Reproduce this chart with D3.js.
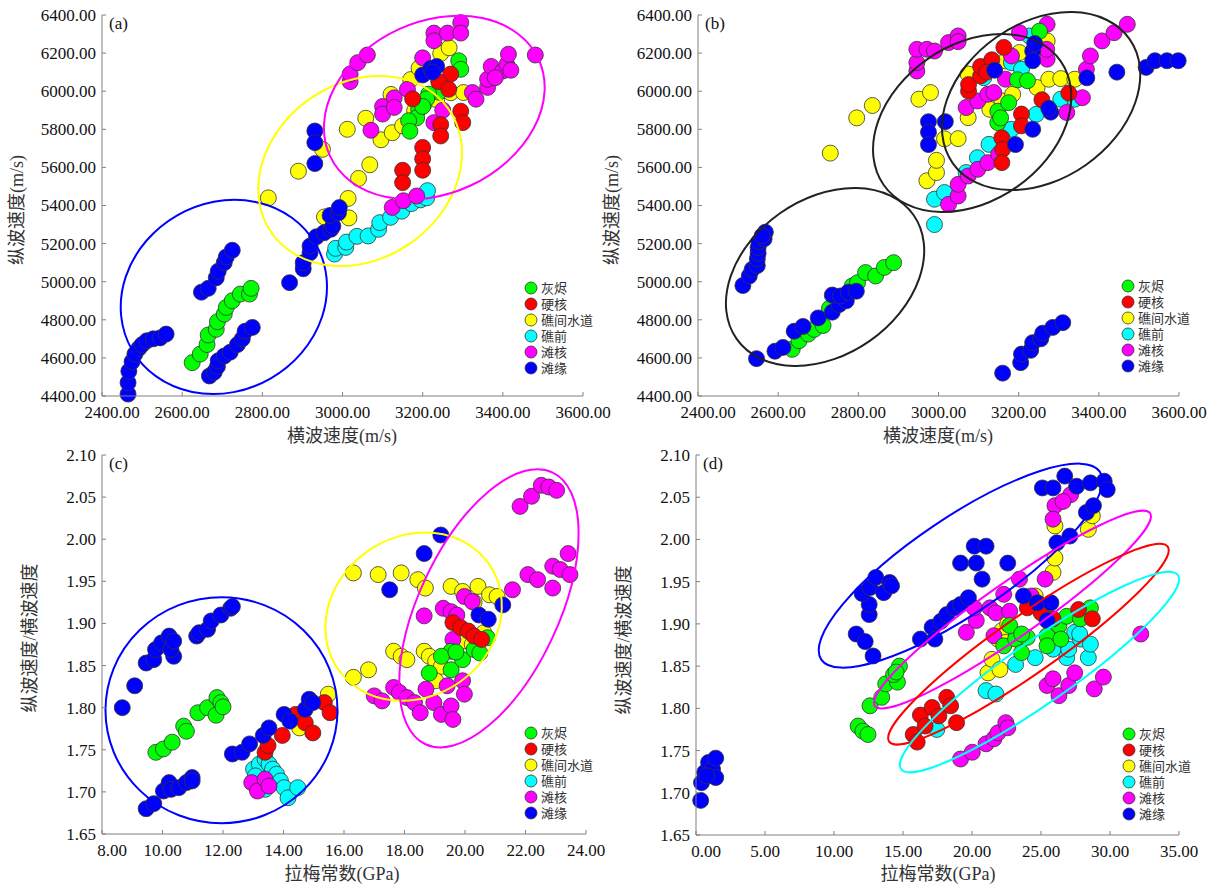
<!DOCTYPE html>
<html><head><meta charset="utf-8">
<script src="https://cdn.jsdelivr.net/npm/d3@7"></script>
<style>body{margin:0;background:#fff}svg{display:block}</style>
</head><body>
<svg id="chart" width="1216" height="887"></svg>
<script>
// ---------- categories & tick labels ----------
const categories = ["灰烬","硬核","礁间水道","礁前","滩核","滩缘"];
const vsTicks = [2400,2600,2800,3000,3200,3400,3600];
const vpTicks = [4400,4600,4800,5000,5200,5400,5600,5800,6000,6200,6400];
const ratioTicks = [1.65,1.70,1.75,1.80,1.85,1.90,1.95,2.00,2.05,2.10];
const lameTicksC = [8,10,12,14,16,18,20,22,24];
const lameTicksD = [0,5,10,15,20,25,30,35];

// ---------- panel (a): Vs vs Vp ----------
const aAsh = [[2625,4575],[2645,4620],[2662,4670],[2665,4720],[2685,4750],[2688,4790],[2705,4830],[2710,4865],[2725,4900],[2745,4935],[2768,4935],[2772,4965],[3290,6160],[3295,6115],[3240,5995],[3215,5985],[3210,5960],[3190,5905],[3185,5860],[3165,5845],[3168,5790],[3200,5920]];
const aHard = [[3270,6090],[3240,6050],[3295,5895],[3300,5835],[3245,5825],[3245,5765],[3200,5705],[3200,5645],[3200,5585],[3150,5585],[3150,5520],[3175,5960],[3265,6010]];
const aChannel = [[2815,5440],[2890,5580],[2950,5695],[3012,5800],[3058,5858],[3068,5614],[3040,5542],[3014,5437],[3016,5335],[3096,5745],[3124,5782],[3150,5818],[3180,5898],[3206,5940],[3121,5983],[3170,6061],[3191,6121],[3245,6198],[3266,6228],[3270,5992],[3302,5993],[3235,5956],[2955,5340]];
const aFore = [[2980,5145],[2983,5175],[3008,5180],[3010,5208],[3036,5238],[3064,5240],[3090,5275],[3093,5310],[3120,5338],[3148,5370],[3172,5410],[3195,5430],[3210,5440],[3212,5478]];
const aShoalCore = [[3019,6050],[3019,6090],[3038,6150],[3062,6190],[3124,5390],[3152,5425],[3185,5450],[3228,6305],[3228,6265],[3262,6305],[3295,6360],[3295,6305],[3200,6175],[3100,5920],[3100,5880],[3129,5965],[3162,6010],[3071,5795],[3129,5915],[3228,5835],[3324,5993],[3362,6020],[3362,6063],[3371,6130],[3400,6106],[3410,6140],[3414,6194],[3381,6071],[3481,6190],[3333,5958],[3250,5900],[3420,6110]];
const aShoalEdge = [[2465,4410],[2465,4470],[2467,4530],[2475,4580],[2482,4620],[2492,4650],[2500,4670],[2512,4690],[2528,4700],[2545,4705],[2560,4725],
 [2648,4945],[2665,4965],[2685,5020],[2690,5055],[2705,5100],[2710,5130],[2725,5165],
 [2668,4505],[2680,4525],[2688,4555],[2690,4585],[2705,4610],[2720,4630],[2738,4670],[2750,4700],[2757,4740],[2775,4760],
 [2868,4995],[2902,5068],[2902,5100],[2919,5152],[2919,5187],[2935,5236],[2954,5257],[2971,5275],[2976,5292],[2969,5348],[2990,5362],[2992,5389],
 [2931,5791],[2931,5730],[2931,5620],
 [3200,6085],[3220,6120],[3235,6130],[3225,6100]];

// ---------- panel (b): Vs vs Vp ----------
const bAsh = [[2635,4645],[2652,4690],[2675,4725],[2690,4750],[2712,4770],[2728,4860],[2750,4900],[2785,4978],[2798,4995],[2818,5048],[2843,5030],[2865,5075],[2888,5100],[3148,5895],[3148,5835],[3155,5860],[3197,6060],[3222,6055],[3252,6315],[3175,5940]];
const bHard = [[3075,6000],[3075,6035],[3105,6080],[3105,6130],[3133,6165],[3163,6230],[3158,5755],[3160,5695],[3158,5625],[3207,5880],[3207,5818],[3258,5955],[3325,5990],[3120,6100]];
const bChannel = [[2730,5675],[2796,5860],[2835,5925],[2951,5958],[2980,5993],[2971,5530],[2995,5573],[2995,5637],[3015,5750],[3049,5751],[3074,5861],[3074,6090],[3128,5905],[3158,5949],[3167,6159],[3202,6203],[3185,5984],[3246,6019],[3275,6063],[3305,6066],[3340,6063],[3271,6264]];
const bFore = [[2990,5300],[2990,5433],[3015,5468],[3069,5573],[3097,5651],[3126,5721],[3182,5800],[3244,5879],[3305,5958],[3340,5958],[3113,6071],[3227,6290],[3182,6150],[3207,6115]];
const bShoalCore = [[2946,6106],[2946,6150],[2946,6220],[2971,6220],[2990,6211],[3025,6255],[3049,6290],[3049,6260],[3025,5406],[3049,5450],[3049,5511],[3074,5555],[3098,5590],[3123,5625],[3150,5669],[3069,5914],[3098,5949],[3123,5984],[3167,6063],[3202,6307],[3271,6351],[3271,6168],[3320,5888],[3359,5966],[3369,6115],[3379,6185],[3408,6264],[3438,6307],[3471,6351],[3182,6185],[3138,5993],[3270,6220]];
const bShoalEdge = [[2512,4980],[2528,5030],[2535,5065],[2548,5085],[2548,5120],[2550,5150],[2550,5180],[2552,5210],[2565,5225],[2568,5260],[2560,5240],
 [2546,4596],
 [2592,4635],[2612,4655],[2640,4740],[2662,4765],[2700,4810],[2735,4840],[2752,4880],[2770,4900],[2735,4930],[2755,4925],[2775,4945],[2795,4950],
 [3160,4520],[3205,4575],[3207,4620],[3230,4640],[3235,4680],[3255,4700],[3260,4730],[3285,4760],[3310,4785],
 [2975,5840],[2975,5785],[2975,5720],[3017,5840],[3192,5720],[3235,5800],[3280,5890],[3275,5910],[3370,6070],[3445,6100],[3518,6125],[3540,6160],[3570,6160],[3598,6160],[3140,6110],[3235,6210],[3235,6160],[3240,6250]];

// ---------- panel (c): Lame constant vs Vp/Vs ----------
const cAsh = [[9.78,1.747],[10.03,1.751],[10.32,1.759],[10.70,1.778],[10.79,1.772],[11.17,1.794],[11.49,1.800],[11.77,1.791],[11.80,1.812],[11.93,1.806],[12.0,1.801],[18.82,1.841],[19.54,1.845],[19.54,1.867],[19.92,1.857],[20.30,1.869],[20.49,1.865],[20.74,1.883],[19.22,1.861],[19.7,1.866]];
const cHard = [[13.39,1.747],[13.49,1.755],[13.96,1.767],[14.40,1.792],[14.72,1.782],[14.97,1.770],[15.35,1.806],[15.54,1.794],[19.60,1.901],[19.86,1.895],[20.11,1.891],[20.30,1.885],[20.55,1.881]];
const cChannel = [[14.53,1.776],[15.48,1.816],[16.31,1.960],[17.13,1.958],[17.89,1.960],[18.44,1.952],[18.69,1.942],[19.54,1.944],[19.92,1.938],[20.43,1.944],[20.81,1.934],[21.06,1.932],[16.31,1.836],[16.81,1.845],[17.64,1.867],[17.89,1.861],[18.08,1.857],[18.65,1.867],[18.82,1.861],[19.03,1.855],[19.22,1.849],[19.03,1.832],[19.92,1.879],[20.24,1.875],[20.62,1.889],[20.3,1.925]];
const cFore = [[13.01,1.727],[13.20,1.733],[13.39,1.739],[13.52,1.733],[13.64,1.727],[13.77,1.721],[13.90,1.713],[14.02,1.705],[14.15,1.693],[14.47,1.705],[13.39,1.703],[13.07,1.719]];
const cShoalCore = [[12.95,1.711],[13.14,1.701],[13.39,1.715],[13.52,1.707],[17.0,1.814],[17.26,1.808],[17.64,1.824],[17.83,1.818],[18.08,1.812],[18.33,1.806],[18.52,1.794],[18.71,1.822],[18.97,1.806],[19.22,1.792],[19.54,1.802],[19.60,1.786],[19.41,1.826],[19.92,1.832],[19.98,1.816],[19.60,1.881],[18.65,1.909],[19.28,1.918],[19.54,1.914],[19.73,1.910],[19.98,1.932],[20.24,1.926],[21.57,1.940],[22.08,1.958],[22.40,1.952],[22.90,1.942],[22.90,1.968],[23.15,1.964],[23.47,1.958],[23.41,1.983],[21.82,2.039],[22.20,2.051],[22.52,2.064],[22.77,2.062],[23.03,2.058]];
const cShoalEdge = [[8.67,1.800],[9.08,1.826],[9.46,1.853],[9.71,1.857],[9.77,1.869],[9.97,1.877],[10.22,1.885],[10.37,1.861],[10.28,1.869],[10.37,1.879],[11.13,1.885],[11.21,1.889],[11.49,1.893],[11.61,1.903],[11.93,1.910],[12.25,1.918],[12.31,1.920],[9.46,1.680],[9.71,1.686],[10.03,1.701],[10.22,1.711],[10.28,1.703],[10.54,1.705],[10.79,1.711],[10.98,1.717],[10.98,1.713],[12.31,1.745],[12.63,1.747],[12.88,1.757],[13.33,1.767],[13.52,1.776],[14.02,1.792],[14.21,1.784],[14.72,1.798],[14.85,1.810],[14.97,1.806],[17.51,1.940],[18.65,1.983],[19.20,2.005],[20.46,1.910],[20.77,1.905],[21.25,1.922]];

// ---------- panel (d): Lame constant vs Vp/Vs ----------
const dAsh = [[11.75,1.779],[12.09,1.773],[12.46,1.769],[12.61,1.803],[13.46,1.813],[13.75,1.829],[14.60,1.831],[14.32,1.840],[14.74,1.850],[14.5,1.843],[22.30,1.874],[23.16,1.882],[24.01,1.884],[23.59,1.866],[25.44,1.886],[25.44,1.874],[26.30,1.898],[26.44,1.882],[26.86,1.909],[27.86,1.906],[28.58,1.919],[22.73,1.898],[23.6,1.888]];
const dHard = [[15.74,1.769],[16.03,1.760],[16.26,1.792],[16.60,1.779],[17.11,1.801],[17.60,1.791],[18.17,1.813],[18.45,1.803],[18.88,1.783],[25.01,1.913],[25.87,1.906],[27.72,1.917],[28.72,1.906],[24.01,1.919]];
const dChannel = [[21.16,1.842],[21.45,1.858],[22.02,1.846],[21.88,1.882],[22.16,1.892],[22.59,1.900],[24.16,1.923],[24.58,1.933],[25.87,1.961],[26.01,1.978],[26.01,2.016],[28.43,2.012],[28.72,2.028],[22.4,1.878]];
const dFore = [[17.45,1.775],[21.02,1.821],[21.73,1.817],[23.16,1.852],[24.58,1.860],[25.87,1.870],[26.86,1.860],[27.01,1.870],[27.44,1.890],[27.86,1.882],[28.43,1.860],[28.58,1.876],[27.8,1.888]];
const dShoalCore = [[19.59,1.890],[20.31,1.904],[20.16,1.919],[21.30,1.919],[21.73,1.913],[22.30,1.935],[22.73,1.915],[23.44,1.953],[21.59,1.886],[24.30,1.933],[25.30,1.953],[26.01,2.040],[25.87,2.024],[27.15,2.053],[26.6,2.045],[19.17,1.740],[20.02,1.748],[21.02,1.758],[21.59,1.764],[21.88,1.771],[22.45,1.783],[22.59,1.777],[25.44,1.827],[25.87,1.835],[26.30,1.815],[27.01,1.827],[27.44,1.842],[28.86,1.823],[29.52,1.837],[32.23,1.888]];
const dShoalEdge = [[0.34,1.691],[0.40,1.712],[0.63,1.724],[0.91,1.736],[1.20,1.728],[1.43,1.741],[1.43,1.718],[0.77,1.720],[11.61,1.888],[12.26,1.879],[12.83,1.862],[12.55,1.911],[12.55,1.923],[12.04,1.936],[12.61,1.943],[13.03,1.955],[13.60,1.937],[14.03,1.949],[14.17,1.945],[16.26,1.882],[17.11,1.896],[17.31,1.882],[17.74,1.903],[18.17,1.911],[18.74,1.919],[19.17,1.923],[19.74,1.931],[19.17,1.972],[20.16,1.992],[21.02,1.992],[20.31,1.972],[20.73,1.953],[22.59,1.972],[23.73,1.933],[24.73,1.925],[25.44,1.904],[25.72,1.925],[26.15,1.996],[27.09,2.004],[28.29,2.032],[28.80,2.040],[25.10,2.061],[25.87,2.061],[26.72,2.075],[27.58,2.063],[28.58,2.067],[29.58,2.069],[29.80,2.059]];

// ---------- cluster ellipse centres (data units) ----------
const ellipseCentersA = [[2704,4920],[3044,5581],[3229,5914]];
const ellipseCentersB = [[2717,5025],[3084,5833],[3256,5948]];
const ellipseCentersC = [[11.95,1.797],[18.30,1.908],[20.79,1.918]];
const ellipseCentersD = [[19.17,1.969],[22.93,1.917],[24.09,1.876],[24.89,1.843]];

// ---------- styles ----------
const colors = ["#00ff00","#ff0000","#ffff00","#00ffff","#ff00ff","#0000ff"];
const drawOrder = [2,3,4,0,1,5];
const ellipseShapes = {
  a:[{rx:106,ry:94,rot:-30,c:"#0000ff"},{rx:108,ry:88,rot:-35,c:"#ffff00"},{rx:115,ry:86,rot:-25,c:"#ff00ff"}],
  b:[{rx:108,ry:78,rot:-35,c:"#222"},{rx:108,ry:78,rot:-35,c:"#222"},{rx:108,ry:78,rot:-35,c:"#222"}],
  c:[{rx:116,ry:113,rot:0,c:"#0000ff"},{rx:92,ry:80,rot:-35,c:"#ffff00"},{rx:150,ry:70,rot:-65,c:"#ff00ff"}],
  d:[{rx:168,ry:48,rot:-34,c:"#0000ff"},{rx:168,ry:27,rot:-35,c:"#ff00ff"},{rx:170,ry:29,rot:-35,c:"#ff0000"},{rx:169,ry:31,rot:-35,c:"#00ffff"}]
};

const panels = [
  {key:"a",label:"(a)",series:[aAsh,aHard,aChannel,aFore,aShoalCore,aShoalEdge],xd:[2400,3600],yd:[4400,6400],xt:vsTicks,yt:vpTicks,
   x0:102,x1:583,y0:396,y1:15,xTitle:"横波速度(m/s)",yTitle:"纵波速度(m/s)",xTitleX:342,xTitleY:442,yTitleX:17,yTitleY:210,ell:ellipseCentersA,legX:531,legY:288},
  {key:"b",label:"(b)",series:[bAsh,bHard,bChannel,bFore,bShoalCore,bShoalEdge],xd:[2400,3600],yd:[4400,6400],xt:vsTicks,yt:vpTicks,
   x0:698,x1:1179,y0:396,y1:15,xTitle:"横波速度(m/s)",yTitle:"纵波速度(m/s)",xTitleX:938,xTitleY:442,yTitleX:612,yTitleY:210,ell:ellipseCentersB,legX:1128,legY:286},
  {key:"c",label:"(c)",series:[cAsh,cHard,cChannel,cFore,cShoalCore,cShoalEdge],xd:[8,24],yd:[1.65,2.10],xt:lameTicksC,yt:ratioTicks,
   x0:102,x1:586,y0:834,y1:455,xTitle:"拉梅常数(GPa)",yTitle:"纵波速度/横波速度",xTitleX:342,xTitleY:880,yTitleX:30,yTitleY:638,ell:ellipseCentersC,legX:531,legY:733},
  {key:"d",label:"(d)",series:[dAsh,dHard,dChannel,dFore,dShoalCore,dShoalEdge],xd:[0,35],yd:[1.65,2.10],xt:lameTicksD,yt:ratioTicks,
   x0:696,x1:1179,y0:835,y1:455,xTitle:"拉梅常数(GPa)",yTitle:"纵波速度/横波速度",xTitleX:938,xTitleY:880,yTitleX:624,yTitleY:640,ell:ellipseCentersD,legX:1129,legY:734}
];

const svg = d3.select("#chart");
const fmt = d3.format(".2f");
const serif = "'Liberation Serif','Times New Roman','Noto Sans CJK SC',serif";
const cjk = "'Liberation Serif','Noto Sans CJK SC',serif";

panels.forEach(p => {
  const x = d3.scaleLinear().domain(p.xd).range([p.x0,p.x1]);
  const y = d3.scaleLinear().domain(p.yd).range([p.y0,p.y1]);
  const g = svg.append("g");

  // points
  const pts = g.append("g");
  drawOrder.forEach(si => {
    pts.selectAll(null).data(p.series[si]).enter().append("circle")
      .attr("cx", d => x(d[0])).attr("cy", d => y(d[1])).attr("r", 8)
      .attr("fill", colors[si]).attr("stroke", "#333").attr("stroke-width", 0.8);
  });

  // ellipses
  p.ell.forEach((c, i) => {
    const s = ellipseShapes[p.key][i];
    g.append("ellipse").attr("cx",0).attr("cy",0).attr("rx",s.rx).attr("ry",s.ry)
      .attr("transform",`translate(${x(c[0])},${y(c[1])}) rotate(${s.rot})`)
      .attr("fill","none").attr("stroke",s.c).attr("stroke-width",2);
  });

  // axes
  const ax = g.append("g").attr("stroke","#808080").attr("stroke-width",1);
  ax.append("line").attr("x1",p.x0).attr("x2",p.x1).attr("y1",p.y0).attr("y2",p.y0);
  ax.append("line").attr("x1",p.x0).attr("x2",p.x0).attr("y1",p.y0).attr("y2",p.y1);
  p.xt.forEach(t => ax.append("line").attr("x1",x(t)).attr("x2",x(t)).attr("y1",p.y0).attr("y2",p.y0-4));
  p.yt.forEach(t => ax.append("line").attr("x1",p.x0).attr("x2",p.x0+4).attr("y1",y(t)).attr("y2",y(t)));

  g.selectAll(null).data(p.xt).enter().append("text")
    .attr("x",(t,i) => x(t) + (i===0?10:0)).attr("y",p.y0+22)
    .attr("text-anchor","middle").attr("font-family",serif).attr("font-size",17).attr("fill","#111")
    .text(t => fmt(t));
  g.selectAll(null).data(p.yt).enter().append("text")
    .attr("x",p.x0-6).attr("y",t => y(t)).attr("dy","0.35em")
    .attr("text-anchor","end").attr("font-family",serif).attr("font-size",17).attr("fill","#111")
    .text(t => fmt(t));

  g.append("text").attr("x",p.x0+7).attr("y",p.y1+14).attr("font-family",serif).attr("font-size",17)
    .attr("fill","#111").text(p.label);

  g.append("text").attr("x",p.xTitleX).attr("y",p.xTitleY).attr("text-anchor","middle")
    .attr("font-family",cjk).attr("font-size",18).attr("fill","#333").text(p.xTitle);
  g.append("text").attr("transform",`translate(${p.yTitleX},${p.yTitleY}) rotate(-90)`)
    .attr("text-anchor","middle").attr("dy","0.35em")
    .attr("font-family",cjk).attr("font-size",18).attr("fill","#333").text(p.yTitle);

  // legend
  const lg = g.append("g");
  categories.forEach((name, i) => {
    const ly = p.legY + i*16;
    lg.append("circle").attr("cx",p.legX).attr("cy",ly).attr("r",6)
      .attr("fill",colors[i]).attr("stroke","#333").attr("stroke-width",0.8);
    lg.append("text").attr("x",p.legX+10).attr("y",ly).attr("dy","0.36em")
      .attr("font-family","'Liberation Serif','Noto Sans CJK SC',serif").attr("font-size",13).attr("fill","#333").text(name);
  });
});
</script>
</body></html>
